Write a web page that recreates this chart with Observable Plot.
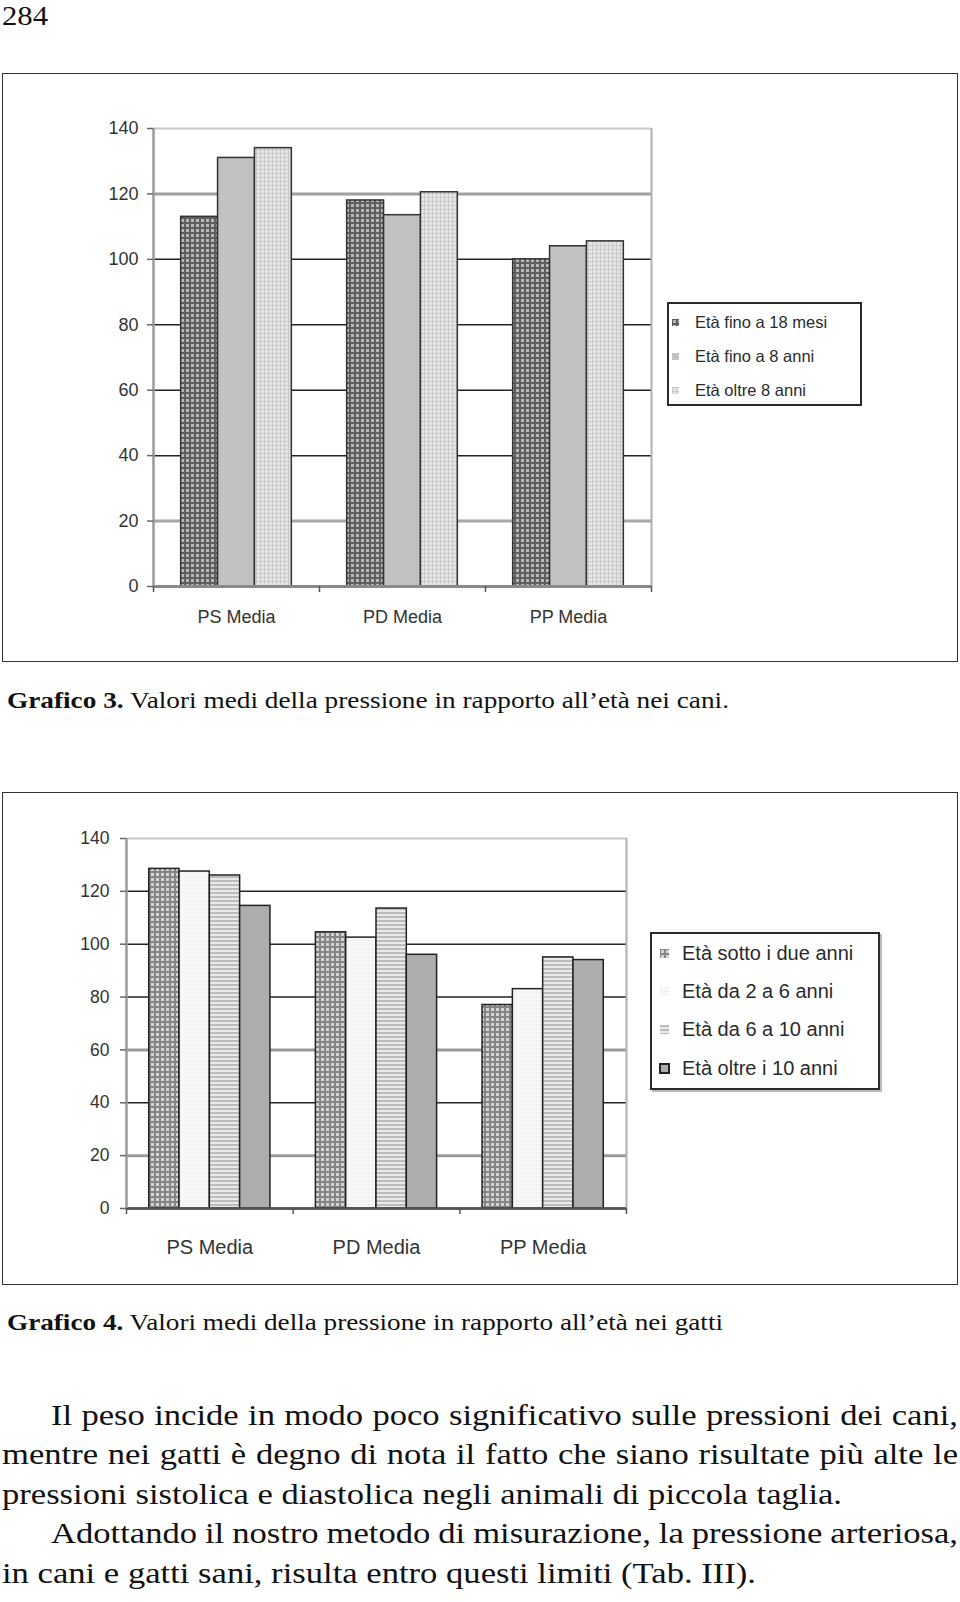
<!DOCTYPE html>
<html>
<head>
<meta charset="utf-8">
<script src="https://cdn.jsdelivr.net/npm/d3@7"></script>
<script src="https://cdn.jsdelivr.net/npm/@observablehq/plot@0.6"></script>
<style>
html, body { margin: 0; padding: 0; background: #fff; }
#page { position: relative; width: 960px; height: 1602px; overflow: hidden; font-family: "Liberation Serif", "Times New Roman", serif; color: #111; background: #fff; }
.frame { position: absolute; border: 1.5px solid #333; box-sizing: border-box; }
.pageno { position: absolute; left: 2px; top: 0px; font-size: 28px; line-height: 31px; transform-origin: 0 0; }
.cap { position: absolute; left: 7px; font-size: 22.5px; line-height: 22.5px; white-space: nowrap; transform-origin: 0 0; }
.line { position: absolute; font-size: 30px; line-height: 30px; white-space: nowrap; transform-origin: 0 0; }
.legendbox { position: absolute; border: 2px solid #2a2a2a; box-sizing: border-box; background: #fff; font-family: "Liberation Sans", Arial, sans-serif; color: #2a2a2a; }
.lg1-swatches, .lg2-swatches { margin: 0 !important; font-family: "Liberation Sans", Arial, sans-serif !important; color: #2a2a2a; }
.lg1-swatches { font-size: 16.5px !important; }
.lg2-swatches { font-size: 20px !important; }
.lg1-swatches .lg1-swatch { height: 34px; padding: 0 !important; display: flex; align-items: center; }
.lg2-swatches .lg2-swatch { height: 38.3px; padding: 0 !important; display: flex; align-items: center; }
.lg1-swatches .lg1-swatch > svg { margin-right: 16px !important; }
.lg2-swatches .lg2-swatch > svg { margin-right: 13px !important; }
.lg2-swatches .lg2-swatch:last-child > svg rect { stroke: #222; stroke-width: 2px; }
</style>
</head>
<body>
<div id="page">
  <svg width="0" height="0" style="position:absolute">
    <defs>
      <pattern id="pDog1" width="5" height="5" patternUnits="userSpaceOnUse">
        <rect width="5" height="5" fill="#5e5e5e"></rect>
        <rect x="1" y="1" width="3" height="3" fill="#b8b8b8"></rect>
      </pattern>
      <pattern id="pDog2" width="4" height="4" patternUnits="userSpaceOnUse">
        <rect width="4" height="4" fill="#c2c2c2"></rect>
        <rect width="1" height="1" fill="#b6b6b6"></rect>
      </pattern>
      <pattern id="pDog3" width="4" height="4" patternUnits="userSpaceOnUse">
        <rect width="4" height="4" fill="#c9c9c9"></rect>
        <rect x="1" y="1" width="3" height="3" fill="#e6e6e6"></rect>
      </pattern>
      <pattern id="pCat1" width="5" height="5" patternUnits="userSpaceOnUse">
        <rect width="5" height="5" fill="#858585"></rect>
        <rect x="1" y="1" width="3" height="3" fill="#d4d4d4"></rect>
      </pattern>
      <pattern id="pCat2" width="4" height="4" patternUnits="userSpaceOnUse">
        <rect width="4" height="4" fill="#f7f7f7"></rect>
        <rect width="1" height="1" fill="#e4e4e4"></rect>
      </pattern>
      <pattern id="pCat3" width="4" height="4" patternUnits="userSpaceOnUse">
        <rect width="4" height="4" fill="#bcbcbc"></rect>
        <rect y="2" width="4" height="2" fill="#e9e9e9"></rect>
      </pattern>
      <pattern id="pCat4" width="4" height="4" patternUnits="userSpaceOnUse">
        <rect width="4" height="4" fill="#adadad"></rect>
      </pattern>
    </defs>
  </svg>

  <div class="pageno" id="pageno">284</div>

  <div class="frame" style="left:2px; top:73px; width:956px; height:589px;"></div>
  <div id="chart1"></div>
  <div class="legendbox" id="legend1" style="left:667px; top:302px; width:195px; height:104px; padding:1px 0 0 3px;"></div>
  <div class="cap" id="cap3" style="top:690px;"><b>Grafico 3.</b> Valori medi della pressione in rapporto all’età nei cani.</div>

  <div class="frame" style="left:2px; top:792px; width:956px; height:493px;"></div>
  <div id="chart2"></div>
  <div class="legendbox" id="legend2" style="left:650px; top:932px; width:230px; height:158px; padding:0 0 0 8px; box-shadow: 2px 2px 0 #bbb;"></div>
  <div class="cap" id="cap4" style="top:1312px;"><b>Grafico 4.</b> Valori medi della pressione in rapporto all’età nei gatti</div>

  <div id="bodytext"></div>
</div>

<script>
// ---------- data ----------
const categories = ["PS Media", "PD Media", "PP Media"];
const yTicks = [0, 20, 40, 60, 80, 100, 120, 140];

// Grafico 3 (cani)
const dogSeries = ["Età fino a 18 mesi", "Età fino a 8 anni", "Età oltre 8 anni"];
const dogUpTo18Months = [113, 118, 100];
const dogUpTo8Years = [131, 113.5, 104];
const dogOver8Years = [134, 120.5, 105.5];

// Grafico 4 (gatti)
const catSeries = ["Età sotto i due anni", "Età da 2 a 6 anni", "Età da 6 a 10 anni", "Età oltre i 10 anni"];
const catUnder2 = [128.5, 104.5, 77];
const cat2to6 = [127.5, 102.5, 83];
const cat6to10 = [126, 113.5, 95];
const catOver10 = [114.5, 96, 94];

// body text
const bodyLines = [
  "Il peso incide in modo poco significativo sulle pressioni dei cani,",
  "mentre nei gatti è degno di nota il fatto che siano risultate più alte le",
  "pressioni sistolica e diastolica negli animali di piccola taglia.",
  "Adottando il nostro metodo di misurazione, la pressione arteriosa,",
  "in cani e gatti sani, risulta entro questi limiti (Tab. III)."
];

// ---------- chart builder ----------
function drawChart(cfg) {
  const n = cfg.series.length;
  const rows = [];
  cfg.series.forEach((s, si) => categories.forEach((c, ci) =>
    rows.push({category: c, series: s, value: cfg.values[si][ci], ci, si})));
  // Excel-style clustered columns: gap width 150% of a bar
  const slot = 1 / (n + 1.5);
  const gs = cfg.grid;
  const chart = Plot.plot({
    width: 960,
    height: cfg.height,
    marginTop: cfg.marginTop,
    marginLeft: cfg.marginLeft,
    marginRight: cfg.marginRight,
    marginBottom: cfg.marginBottom,
    x: {type: "linear", domain: [0, categories.length], axis: null},
    y: {domain: [0, 140], axis: null},
    color: {type: "ordinal", domain: cfg.series, range: cfg.fills},
    style: {position: "absolute", left: "0px", top: cfg.top + "px", background: "transparent", fontFamily: "'Liberation Sans', Arial, sans-serif", color: "#333", overflow: "visible"},
    marks: [
      Plot.ruleY(yTicks, {stroke: d => gs[d][0], strokeWidth: d => gs[d][1]}),
      Plot.ruleX([categories.length], {stroke: "#b0b0b0", strokeWidth: 2}),
      Plot.rect(rows, {
        x1: d => d.ci + (0.75 + d.si) * slot,
        x2: d => d.ci + (1.75 + d.si) * slot,
        y1: 0,
        y2: "value",
        fill: "series",
        stroke: cfg.barStroke,
        strokeWidth: 1.5
      }),
      Plot.ruleY([0], {stroke: gs[0][0], strokeWidth: gs[0][1]}),
      Plot.ruleX([0], {stroke: "#9a9a9a", strokeWidth: 2.5}),
      Plot.axisY({ticks: yTicks, tickSize: 6, tickPadding: cfg.yPad, fontSize: cfg.yFont, label: null, stroke: "#666", strokeWidth: 1.5}),
      Plot.axisX({ticks: d3.range(categories.length + 1), tickSize: 6, tickFormat: () => "", label: null, stroke: "#555", strokeWidth: 1.5}),
      Plot.axisX({ticks: categories.map((c, i) => i + 0.5), tickSize: 0, tickPadding: cfg.xPad,
                  tickFormat: t => categories[Math.floor(t)], fontSize: cfg.xFont, label: null})
    ]
  });
  document.getElementById(cfg.target).appendChild(chart);

  const legend = Plot.legend({
    color: {type: "ordinal", domain: cfg.series, range: cfg.fills},
    legend: "swatches",
    columns: 1,
    swatchSize: cfg.swatch,
    className: cfg.legendClass
  });
  document.getElementById(cfg.legendTarget).appendChild(legend);
}

drawChart({
  target: "chart1", legendTarget: "legend1", legendClass: "lg1",
  series: dogSeries,
  values: [dogUpTo18Months, dogUpTo8Years, dogOver8Years],
  fills: ["url(#pDog1)", "url(#pDog2)", "url(#pDog3)"],
  barStroke: "#333",
  top: 73, height: 589, marginTop: 55, marginLeft: 153, marginRight: 309, marginBottom: 76,
  yPad: 9, yFont: 18, xPad: 24, xFont: 18, swatch: 7,
  grid: {0: ["#8a8a8a", 3], 20: ["#a8a8a8", 3], 40: ["#222", 1.5], 60: ["#222", 1.5], 80: ["#222", 1.5], 100: ["#222", 1.5], 120: ["#a0a0a0", 3], 140: ["#c8c8c8", 2]}
});

drawChart({
  target: "chart2", legendTarget: "legend2", legendClass: "lg2",
  series: catSeries,
  values: [catUnder2, cat2to6, cat6to10, catOver10],
  fills: ["url(#pCat1)", "url(#pCat2)", "url(#pCat3)", "url(#pCat4)"],
  barStroke: "#222",
  top: 792, height: 493, marginTop: 46, marginLeft: 126, marginRight: 334, marginBottom: 77,
  yPad: 11, yFont: 17.5, xPad: 31, xFont: 20, swatch: 9,
  grid: {0: ["#555", 2.5], 20: ["#9a9a9a", 3], 40: ["#222", 1.5], 60: ["#9a9a9a", 3], 80: ["#222", 1.5], 100: ["#222", 1.5], 120: ["#222", 1.5], 140: ["#c8c8c8", 2]}
});

// ---------- page text: the scan is slightly stretched horizontally ----------
function fitWidth(el, target) {
  const w = el.getBoundingClientRect().width;
  el.style.transform = "scaleX(" + (target / w) + ")";
}
fitWidth(document.getElementById("pageno"), 46);
fitWidth(document.getElementById("cap3"), 722);
fitWidth(document.getElementById("cap4"), 716);

const lineLayout = [
  {left: 51, baseline: 1425, right: 958, justify: true},
  {left: 2, baseline: 1464.5, right: 958, justify: true},
  {left: 2, baseline: 1504, right: 842, justify: false},
  {left: 51, baseline: 1543.5, right: 958, justify: true},
  {left: 2, baseline: 1583, right: 756, justify: false}
];
const bodyEl = document.getElementById("bodytext");
const divs = bodyLines.map((t, i) => {
  const L = lineLayout[i];
  const div = document.createElement("div");
  div.className = "line";
  div.textContent = t;
  div.style.left = L.left + "px";
  div.style.top = (L.baseline - 0.8375 * 30) + "px";
  bodyEl.appendChild(div);
  return div;
});
// horizontal stretch derived from the free (non-justified) lines
let sxSum = 0, sxN = 0;
divs.forEach((div, i) => {
  const L = lineLayout[i];
  if (!L.justify) {
    sxSum += (L.right - L.left) / div.getBoundingClientRect().width;
    sxN++;
  }
});
const sx = sxSum / sxN;
divs.forEach((div, i) => {
  const L = lineLayout[i];
  const t = bodyLines[i];
  const natural = div.getBoundingClientRect().width;
  if (L.justify) {
    const spaces = (t.match(/ /g) || []).length;
    div.style.wordSpacing = (((L.right - L.left) / sx - natural) / spaces) + "px";
    div.style.transform = "scaleX(" + sx + ")";
  } else {
    div.style.transform = "scaleX(" + ((L.right - L.left) / natural) + ")";
  }
});
</script>
</body>
</html>
